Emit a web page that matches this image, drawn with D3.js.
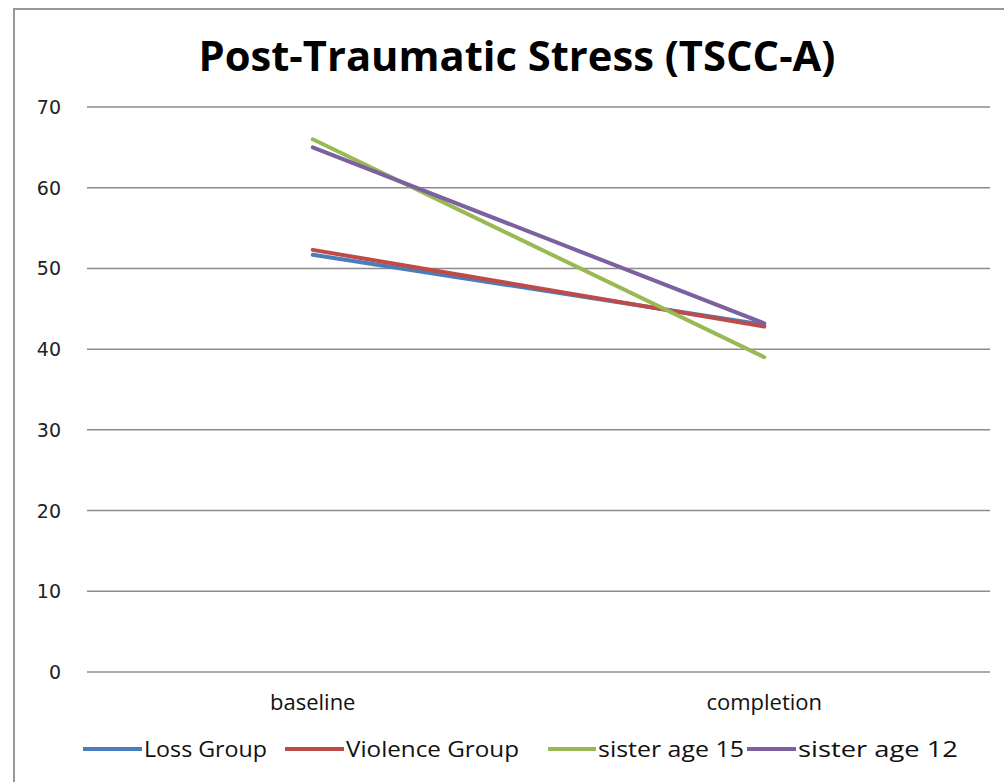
<!DOCTYPE html>
<html>
<head>
<meta charset="utf-8">
<script src="https://cdn.jsdelivr.net/npm/d3@7"></script>
<style>
  body { margin: 0; background: #fff; }
  svg { display: block; }
  .lbl { font-family: "Open Sans", sans-serif; fill: #111; }
</style>
</head>
<body>
<svg id="chart" width="1004" height="782"></svg>
<script>
// chart values
const categories = ['baseline', 'completion'];
const seriesNames = ['Loss Group', 'Violence Group', 'sister age 15', 'sister age 12'];
const lossGroup = [51.7, 43.0];
const violenceGroup = [52.3, 42.8];
const sister15 = [66.0, 39.0];
const sister12 = [65.0, 43.2];
const yTicks = [0, 10, 20, 30, 40, 50, 60, 70];
const colors = ['#4a7ebb', '#be4b48', '#98b954', '#7d60a0'];

const allSeries = [lossGroup, violenceGroup, sister15, sister12];

const svg = d3.select('#chart');

// outer frame
svg.append('path')
    .attr('d', 'M14,782 L14,9 L1004,9')
    .attr('fill', 'none')
    .attr('stroke', '#999')
    .attr('stroke-width', 2);

// title
svg.append('text')
    .attr('x', 517)
    .attr('y', 71)
    .attr('text-anchor', 'middle')
    .attr('font-family', '"Open Sans", sans-serif')
    .attr('font-weight', 'bold')
    .attr('font-size', 42)
    .attr('textLength', 637)
    .attr('lengthAdjust', 'spacingAndGlyphs')
    .text('Post-Traumatic Stress (TSCC-A)');

const plotLeft = 87, plotRight = 990, plotTop = 107, plotBottom = 672;

const x = d3.scaleBand().domain(categories).range([plotLeft, plotRight]);
const y = d3.scaleLinear().domain([0, 70]).range([plotBottom, plotTop]);

// gridlines
svg.append('g')
    .selectAll('line')
    .data(yTicks)
    .enter().append('line')
    .attr('x1', plotLeft)
    .attr('x2', plotRight)
    .attr('y1', d => y(d))
    .attr('y2', d => y(d))
    .attr('stroke', '#8c8c8c')
    .attr('stroke-width', 1.5);

// y labels
svg.append('g')
    .selectAll('text')
    .data(yTicks)
    .enter().append('text')
    .attr('x', 61)
    .attr('y', d => y(d) + 7)
    .attr('text-anchor', 'end')
    .attr('font-family', '"DejaVu Sans", Verdana, sans-serif')
    .attr('font-size', 19)
    .attr('fill', '#222')
    .text(d => d);

// x labels
svg.append('g')
    .selectAll('text')
    .data(categories)
    .enter().append('text')
    .attr('class', 'lbl')
    .attr('x', d => x(d) + x.bandwidth() / 2)
    .attr('y', 710)
    .attr('text-anchor', 'middle')
    .attr('font-size', 22)
    .text(d => d);

// series lines
const line = d3.line()
    .x((d, i) => x(categories[i]) + x.bandwidth() / 2)
    .y(d => y(d));

svg.append('g')
    .selectAll('path')
    .data(allSeries)
    .enter().append('path')
    .attr('d', line)
    .attr('fill', 'none')
    .attr('stroke', (d, i) => colors[i])
    .attr('stroke-width', 4)
    .attr('stroke-linecap', 'round');

// legend: line start, text start, text width per entry
const legendLineX = [83, 285, 548, 747];
const legendTextX = [144, 346, 598, 798];
const legendTextW = [123, 173, 146, 160];
const legend = svg.append('g');
seriesNames.forEach(function(name, i) {
    legend.append('line')
        .attr('x1', legendLineX[i]).attr('x2', legendTextX[i] - 2)
        .attr('y1', 749).attr('y2', 749)
        .attr('stroke', colors[i])
        .attr('stroke-width', 4);
    legend.append('text')
        .attr('class', 'lbl')
        .attr('x', legendTextX[i])
        .attr('y', 757)
        .attr('font-size', 22)
        .attr('textLength', legendTextW[i])
        .attr('lengthAdjust', 'spacingAndGlyphs')
        .text(name);
});
</script>
</body>
</html>
